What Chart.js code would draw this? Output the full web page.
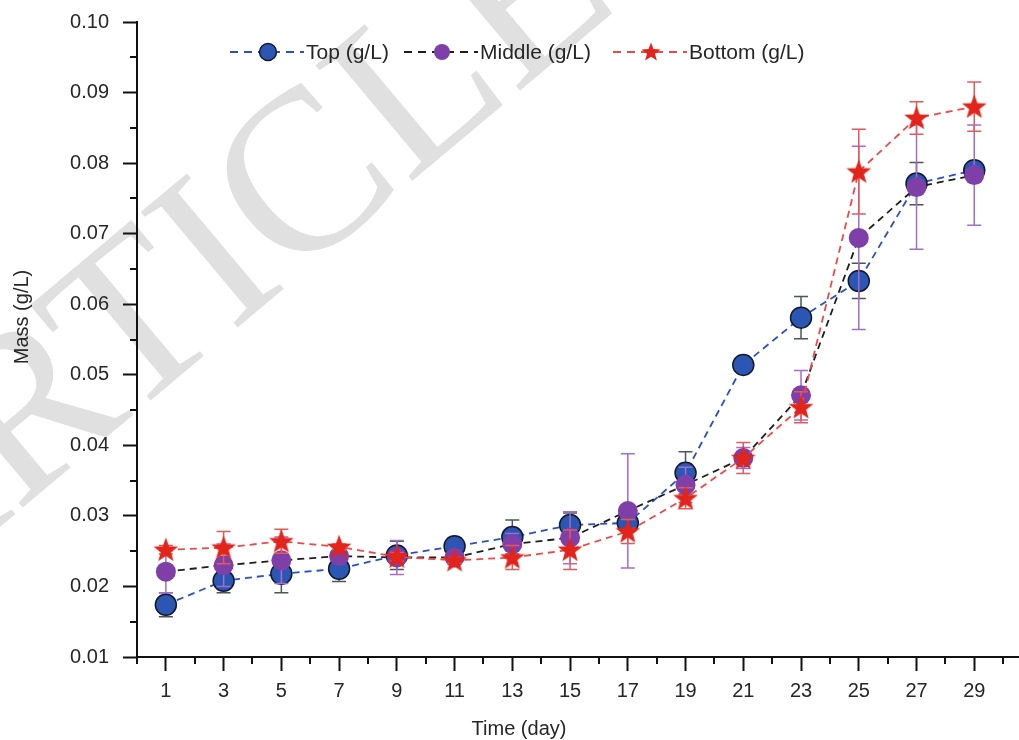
<!DOCTYPE html>
<html>
<head>
<meta charset="utf-8">
<script src="https://cdn.jsdelivr.net/npm/chart.js@4.4.1/dist/chart.umd.min.js"></script>
<style>
  html, body { margin: 0; padding: 0; background: #ffffff; }
  #wrap { width: 1019px; height: 740px; }
</style>
</head>
<body>
<div id="wrap"><canvas id="c" width="1019" height="740"></canvas></div>
<script>
// ---- data ----
const days = [1, 3, 5, 7, 9, 11, 13, 15, 17, 19, 21, 23, 25, 27, 29];
const xTickValues = [1, 3, 5, 7, 9, 11, 13, 15, 17, 19, 21, 23, 25, 27, 29];
const seriesNames = ['Top (g/L)', 'Middle (g/L)', 'Bottom (g/L)'];
const topMass = [0.0174, 0.0208, 0.0218, 0.0225, 0.0244, 0.0257, 0.0270, 0.0287, 0.0290, 0.0361, 0.0514, 0.0581, 0.0633, 0.0771, 0.0790];
const topErr  = [0.0017, 0.0017, 0.0027, 0.0018, 0.0020, 0.0012, 0.0024, 0.0017, 0.0010, 0.0030, 0.0007, 0.0030, 0.0025, 0.0030, 0.0006];
const middleMass = [0.0221, 0.0230, 0.0237, 0.0243, 0.0241, 0.0241, 0.0260, 0.0269, 0.0307, 0.0344, 0.0382, 0.0471, 0.0694, 0.0766, 0.0783];
const middleErr  = [0.0030, 0.0030, 0.0033, 0.0005, 0.0024, 0.0005, 0.0015, 0.0037, 0.0081, 0.0025, 0.0015, 0.0035, 0.0130, 0.0088, 0.0071];
const bottomMass = [0.0252, 0.0255, 0.0264, 0.0256, 0.0242, 0.0237, 0.0241, 0.0252, 0.0278, 0.0325, 0.0382, 0.0454, 0.0788, 0.0864, 0.0880];
const bottomErr  = [0.0006, 0.0023, 0.0017, 0.0004, 0.0006, 0.0004, 0.0017, 0.0028, 0.0017, 0.0015, 0.0022, 0.0022, 0.0060, 0.0023, 0.0035];
const yTickStep = 0.01;
const yMin = 0.01, yMax = 0.10;
const xMin = 0, xMax = 30.55;
const xTitle = 'Time (day)';
const yTitle = 'Mass (g/L)';
const watermark = 'ARTICLE';

const FONT = '"Liberation Sans", Arial, Helvetica, sans-serif';

function starPath(ctx, cx, cy, R, r) {
  ctx.beginPath();
  for (let k = 0; k < 10; k++) {
    const rad = (k % 2 === 0) ? R : r;
    const a = -Math.PI / 2 + k * Math.PI / 5;
    const px = cx + rad * Math.cos(a), py = cy + rad * Math.sin(a);
    if (k === 0) ctx.moveTo(px, py); else ctx.lineTo(px, py);
  }
  ctx.closePath();
}

const starImg = document.createElement('canvas');
starImg.width = 28; starImg.height = 28;
(function () {
  const c = starImg.getContext('2d');
  starPath(c, 14, 14.8, 13, 5.4);
  c.fillStyle = '#e3241b';
  c.fill();
})();

const pts = arr => days.map((d, i) => ({ x: d, y: arr[i] }));

const datasets = [
  {
    label: seriesNames[0], data: pts(topMass), errors: topErr, errColor: '#4b5656',
    borderColor: '#2a4fc0', borderDash: [7, 5], borderWidth: 1.8,
    pointStyle: 'circle', pointRadius: 10.5, pointHoverRadius: 10.5,
    pointBackgroundColor: '#2c56b3', pointBorderColor: '#141a2c', pointBorderWidth: 1.5,
    order: 2, fill: false, tension: 0
  },
  {
    label: seriesNames[1], data: pts(middleMass), errors: middleErr, errColor: '#a46ccc',
    borderColor: '#1e1e1e', borderDash: [7, 5], borderWidth: 1.8,
    pointStyle: 'circle', pointRadius: 10, pointHoverRadius: 10,
    pointBackgroundColor: '#7f3fa9', pointBorderColor: '#7f3fa9', pointBorderWidth: 0,
    order: 1, fill: false, tension: 0
  },
  {
    label: seriesNames[2], data: pts(bottomMass), errors: bottomErr, errColor: '#e25a5a',
    borderColor: '#f04848', borderDash: [7, 5], borderWidth: 1.8,
    pointStyle: starImg, pointRadius: 12, pointHoverRadius: 12,
    pointBackgroundColor: '#e3241b', pointBorderColor: '#e3241b', pointBorderWidth: 0,
    order: 0, fill: false, tension: 0
  }
];

const watermarkPlugin = {
  id: 'watermark',
  beforeDraw(chart) {
    const ctx = chart.ctx;
    ctx.save();
    ctx.translate(256, 312);
    ctx.rotate(-40 * Math.PI / 180);
    ctx.font = '230px "Liberation Serif", "Times New Roman", serif';
    ctx.fillStyle = '#e0e0e0';
    ctx.textAlign = 'center';
    ctx.textBaseline = 'alphabetic';
    ctx.fillText(watermark, 0, 0);
    ctx.restore();
  }
};

const errorBarPlugin = {
  id: 'errorBars',
  beforeDatasetDraw(chart, args) {
    const ds = chart.data.datasets[args.index];
    if (!ds.errors) return;
    const ctx = chart.ctx;
    const ys = chart.scales.y;
    ctx.save();
    ctx.strokeStyle = ds.errColor;
    ctx.lineWidth = 1.5;
    ctx.setLineDash([]);
    args.meta.data.forEach((el, j) => {
      const v = ds.data[j].y, e = ds.errors[j];
      const x = el.x;
      const y1 = ys.getPixelForValue(v + e), y2 = ys.getPixelForValue(v - e);
      ctx.beginPath();
      ctx.moveTo(x, y1); ctx.lineTo(x, y2);
      ctx.moveTo(x - 7, y1); ctx.lineTo(x + 7, y1);
      ctx.moveTo(x - 7, y2); ctx.lineTo(x + 7, y2);
      ctx.stroke();
    });
    ctx.restore();
  }
};

const decorPlugin = {
  id: 'decor',
  afterDraw(chart) {
    const ctx = chart.ctx;
    const xs = chart.scales.x, ys = chart.scales.y;
    const area = chart.chartArea;
    ctx.save();
    // minor ticks
    ctx.strokeStyle = '#111';
    ctx.lineWidth = 2;
    ctx.beginPath();
    for (let v = yMin + yTickStep / 2; v < yMax; v += yTickStep) {
      const py = Math.round(ys.getPixelForValue(v));
      ctx.moveTo(area.left, py); ctx.lineTo(area.left - 7, py);
    }
    for (let d = 0; d <= 30; d += 2) {
      const px = Math.round(xs.getPixelForValue(d));
      ctx.moveTo(px, area.bottom); ctx.lineTo(px, area.bottom + 7);
    }
    ctx.stroke();
    // axis titles
    ctx.fillStyle = '#262626';
    ctx.font = '20px ' + FONT;
    ctx.textAlign = 'center';
    ctx.textBaseline = 'middle';
    ctx.fillText(xTitle, 519, 729);
    ctx.save();
    ctx.translate(22, 317);
    ctx.rotate(-Math.PI / 2);
    ctx.fillText(yTitle, 0, 0);
    ctx.restore();
    // legend
    const legendX = [230, 404, 613];
    const ly = 52;
    chart.data.datasets.forEach((ds, i) => {
      const x0 = legendX[i];
      ctx.strokeStyle = ds.borderColor;
      ctx.lineWidth = 1.8;
      ctx.setLineDash([8, 6]);
      ctx.beginPath();
      ctx.moveTo(x0, ly); ctx.lineTo(x0 + 74, ly);
      ctx.stroke();
      ctx.setLineDash([]);
      const mx = x0 + 38;
      if (i === 2) {
        starPath(ctx, mx, ly + 0.5, 10, 4.2);
        ctx.fillStyle = '#e3241b';
        ctx.fill();
      } else {
        ctx.beginPath();
        ctx.arc(mx, ly, i === 0 ? 8.5 : 8, 0, Math.PI * 2);
        ctx.fillStyle = ds.pointBackgroundColor;
        ctx.fill();
        if (i === 0) { ctx.lineWidth = 1.4; ctx.strokeStyle = ds.pointBorderColor; ctx.stroke(); }
      }
      ctx.fillStyle = '#262626';
      ctx.font = '21px ' + FONT;
      ctx.textAlign = 'left';
      ctx.textBaseline = 'middle';
      ctx.fillText(ds.label, x0 + 76, ly + 1);
    });
    ctx.restore();
  }
};

new Chart(document.getElementById('c'), {
  type: 'line',
  data: { datasets },
  plugins: [watermarkPlugin, errorBarPlugin, decorPlugin],
  options: {
    responsive: false,
    animation: false,
    devicePixelRatio: 1,
    layout: { autoPadding: false, padding: { top: 22, right: 0, bottom: 0, left: 0 } },
    plugins: { legend: { display: false }, tooltip: { enabled: false } },
    scales: {
      x: {
        type: 'linear', min: xMin, max: xMax,
        afterFit(s) { s.height = 83; s.paddingLeft = 0; s.paddingRight = 0; },
        afterBuildTicks(s) { s.ticks = xTickValues.map(v => ({ value: v })); },
        grid: { display: true, drawOnChartArea: false, drawTicks: true, tickLength: 14, tickWidth: 2, tickColor: '#111' },
        border: { display: true, color: '#111', width: 2 },
        ticks: { color: '#262626', font: { family: FONT, size: 20 }, padding: 8, maxRotation: 0, autoSkip: false, callback: v => String(v) },
        title: { display: false }
      },
      y: {
        type: 'linear', min: yMin, max: yMax,
        afterFit(s) { s.width = 137; s.paddingTop = 0; s.paddingBottom = 0; },
        grid: { display: true, drawOnChartArea: false, drawTicks: true, tickLength: 14, tickWidth: 2, tickColor: '#111' },
        border: { display: true, color: '#111', width: 2 },
        ticks: { stepSize: yTickStep, color: '#262626', font: { family: FONT, size: 20 }, padding: 14, callback: v => Number(v).toFixed(2) },
        title: { display: false }
      }
    }
  }
});
</script>
</body>
</html>
